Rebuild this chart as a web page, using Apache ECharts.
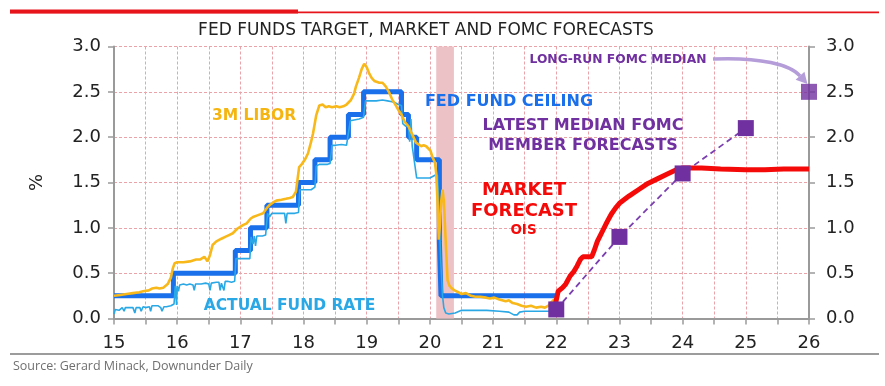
<!DOCTYPE html>
<html>
<head>
<meta charset="utf-8">
<script src="https://cdn.jsdelivr.net/npm/echarts@6/dist/echarts.min.js"></script>
<style>
html,body{margin:0;padding:0;background:#fff;}
#c{width:885px;height:386px;}
</style>
</head>
<body>
<div id="c"></div>
<script>
// ---------- DATA ----------
var xTickLabels = ['15','16','17','18','19','20','21','22','23','24','25','26'];
var yTickLabels = ['0.0','0.5','1.0','1.5','2.0','2.5','3.0'];

// Fed funds target ceiling (step changes)
var ceilingX = [15, 15.94, 16.92, 17.16, 17.42, 17.92, 18.18, 18.42, 18.71, 18.95, 19.55, 19.66, 19.79, 20.15, 20.175, 22.0];
var ceilingY = [0.25, 0.5, 0.75, 1.0, 1.25, 1.5, 1.75, 2.0, 2.25, 2.5, 2.25, 2.0, 1.75, 0.85, 0.25, 0.25];

// Actual (effective) fed funds rate
var actualX = [15.0,15.02,15.05,15.08,15.1,15.13,15.16,15.18,15.21,15.25,15.28,15.3,15.33,15.35,15.38,15.41,15.43,15.46,15.5,15.53,15.56,15.58,15.6,15.64,15.67,15.7,15.74,15.76,15.79,15.83,15.86,15.9,15.93,15.95,15.97,15.99,16.0,16.02,16.04,16.06,16.1,16.15,16.2,16.25,16.27,16.29,16.32,16.38,16.45,16.5,16.52,16.54,16.56,16.62,16.66,16.68,16.7,16.72,16.74,16.76,16.8,16.86,16.91,16.93,16.96,17.0,17.05,17.1,17.15,17.17,17.2,17.22,17.24,17.26,17.3,17.35,17.4,17.43,17.46,17.5,17.55,17.6,17.65,17.7,17.72,17.74,17.8,17.86,17.92,17.94,17.98,18.05,18.12,18.18,18.2,18.25,18.3,18.38,18.42,18.45,18.5,18.6,18.68,18.71,18.74,18.8,18.88,18.95,18.98,19.05,19.15,19.25,19.33,19.4,19.45,19.5,19.55,19.57,19.62,19.66,19.68,19.7,19.72,19.74,19.79,19.81,19.9,20.0,20.08,20.1,20.12,20.15,20.17,20.2,20.22,20.25,20.3,20.4,20.5,20.7,20.9,21.1,21.25,21.33,21.36,21.38,21.42,21.5,21.7,21.85,22.0];
var actualY = [0.05,0.1,0.12,0.09,0.11,0.12,0.08,0.12,0.11,0.12,0.13,0.12,0.06,0.12,0.13,0.12,0.08,0.13,0.12,0.14,0.13,0.08,0.14,0.14,0.13,0.14,0.12,0.08,0.13,0.13,0.12,0.14,0.13,0.16,0.36,0.15,0.36,0.3,0.37,0.36,0.38,0.37,0.38,0.37,0.31,0.38,0.37,0.38,0.39,0.38,0.31,0.39,0.39,0.4,0.4,0.31,0.39,0.4,0.31,0.41,0.41,0.4,0.41,0.66,0.65,0.66,0.66,0.66,0.66,0.9,0.82,0.91,0.8,0.91,0.91,0.91,0.92,1.16,1.12,1.16,1.16,1.16,1.16,1.16,1.05,1.16,1.16,1.16,1.17,1.42,1.42,1.42,1.42,1.45,1.68,1.7,1.7,1.7,1.71,1.91,1.91,1.92,1.91,1.92,2.18,2.19,2.2,2.22,2.40,2.40,2.40,2.41,2.40,2.39,2.38,2.36,2.35,2.15,2.12,2.13,1.95,2.2,1.9,1.88,1.55,1.55,1.55,1.55,1.58,1.6,1.58,1.1,0.65,0.25,0.12,0.06,0.05,0.06,0.09,0.09,0.09,0.08,0.07,0.04,0.06,0.04,0.07,0.08,0.08,0.08,0.08];

// 3M LIBOR
var liborX = [15.0,15.1,15.2,15.3,15.4,15.46,15.55,15.6,15.67,15.72,15.78,15.85,15.9,15.93,15.96,16.0,16.1,16.2,16.3,16.36,16.43,16.48,16.52,16.56,16.62,16.7,16.76,16.82,16.88,16.95,17.04,17.1,17.16,17.2,17.28,17.36,17.42,17.46,17.52,17.57,17.65,17.72,17.78,17.83,17.88,17.93,17.97,18.02,18.07,18.12,18.15,18.2,18.25,18.3,18.35,18.4,18.45,18.52,18.57,18.63,18.68,18.75,18.8,18.83,18.88,18.92,18.96,19.0,19.04,19.08,19.12,19.15,19.2,19.25,19.3,19.35,19.4,19.46,19.5,19.55,19.6,19.62,19.66,19.7,19.74,19.78,19.82,19.86,19.9,19.94,19.97,20.01,20.04,20.08,20.1,20.12,20.14,20.16,20.18,20.2,20.22,20.24,20.26,20.28,20.31,20.35,20.39,20.45,20.5,20.57,20.65,20.72,20.8,20.89,20.95,21.02,21.1,21.2,21.25,21.31,21.38,21.45,21.52,21.6,21.68,21.76,21.82,21.87,21.91,21.95,22.0];
var liborY = [0.25,0.26,0.27,0.28,0.29,0.3,0.31,0.33,0.34,0.33,0.34,0.38,0.45,0.55,0.61,0.62,0.62,0.63,0.65,0.65,0.68,0.63,0.7,0.81,0.85,0.88,0.9,0.92,0.94,0.99,1.03,1.05,1.1,1.12,1.14,1.16,1.22,1.25,1.28,1.3,1.31,1.32,1.33,1.34,1.4,1.67,1.7,1.75,1.82,1.95,2.04,2.24,2.35,2.36,2.33,2.34,2.33,2.34,2.33,2.34,2.36,2.41,2.48,2.56,2.66,2.75,2.81,2.77,2.7,2.65,2.62,2.61,2.6,2.6,2.56,2.5,2.42,2.35,2.3,2.25,2.17,2.15,2.12,2.06,2.0,1.94,1.92,1.9,1.91,1.9,1.92,1.85,1.78,1.72,1.6,1.3,0.87,1.05,1.3,1.42,1.3,1.0,0.7,0.42,0.36,0.33,0.31,0.29,0.27,0.28,0.25,0.24,0.24,0.23,0.22,0.23,0.21,0.19,0.2,0.17,0.16,0.14,0.13,0.14,0.12,0.13,0.12,0.14,0.17,0.2,0.23];

// Market forecast (OIS)
var oisX = [21.99,22.03,22.1,22.15,22.22,22.28,22.33,22.38,22.42,22.56,22.6,22.65,22.7,22.75,22.8,22.87,22.94,23.0,23.15,23.3,23.45,23.6,23.75,23.9,24.0,24.3,24.6,25.0,25.3,25.6,26.0];
var oisY = [0.17,0.3,0.34,0.38,0.47,0.52,0.58,0.65,0.68,0.68,0.75,0.85,0.92,0.99,1.06,1.15,1.22,1.27,1.35,1.42,1.49,1.54,1.59,1.64,1.66,1.66,1.65,1.64,1.64,1.65,1.65];

// FOMC median forecasts
var fomcX = [22, 23, 24, 25];
var fomcY = [0.1, 0.9, 1.6, 2.1];
var longRunX = [26];
var longRunY = [2.5];

// Shaded period
var shadeRange = [20.1, 20.38];

// ---------- CHART ----------
function pairs(xs, ys){ return xs.map(function(x,i){ return [x, ys[i]]; }); }

var FONT = 'DejaVu Sans';
var gridColor = '#EBA3AA';
var axisGray = '#9a9a9a';

var chart = echarts.init(document.getElementById('c'), null, {renderer:'canvas'});

var option = {
  animation: false,
  backgroundColor: '#ffffff',
  grid: {left:114, right:76, top:46.5, bottom:67.5, containLabel:false},
  xAxis: {
    type:'value', min:15, max:26, interval:0.5,
    axisLine:{show:true, onZero:false, lineStyle:{color:axisGray, width:2}},
    axisTick:{show:true, length:6, lineStyle:{color:axisGray, width:1.5}},
    axisLabel:{margin:16, color:'#222', fontFamily:FONT, fontSize:18,
      formatter:function(v){ var i = Math.round(v); return Math.abs(v-i)<1e-6 ? xTickLabels[i-15] : ''; }},
    splitLine:{show:true, lineStyle:{color:gridColor, type:[3,2], width:1}}
  },
  yAxis: [
    {type:'value', min:0, max:3, interval:0.5, position:'left',
     name:'%', nameLocation:'middle', nameGap:68, nameRotate:90,
     nameTextStyle:{color:'#222', fontFamily:FONT, fontSize:18},
     axisLine:{show:true, lineStyle:{color:axisGray, width:2}},
     axisTick:{show:true, length:6, lineStyle:{color:axisGray, width:1.5}},
     axisLabel:{margin:13, color:'#222', fontFamily:FONT, fontSize:18,
       formatter:function(v){ return yTickLabels[Math.round(v*2)]; }},
     splitLine:{show:true, lineStyle:{color:gridColor, type:[3,2], width:1}}
    },
    {type:'value', min:0, max:3, interval:0.5, position:'right',
     axisLine:{show:true, lineStyle:{color:axisGray, width:2}},
     axisTick:{show:true, length:6, lineStyle:{color:axisGray, width:1.5}},
     axisLabel:{margin:17, color:'#222', fontFamily:FONT, fontSize:18,
       formatter:function(v){ return yTickLabels[Math.round(v*2)]; }},
     splitLine:{show:false}
    }
  ],
  series: [
    {name:'Fed fund ceiling', type:'line', step:'end', data:pairs(ceilingX, ceilingY),
     showSymbol:false, z:2, lineStyle:{color:'#1A6FEA', width:5}, itemStyle:{color:'#1A6FEA'},
     markArea:{silent:true, itemStyle:{color:'#EDC2C6'},
       data:[[{xAxis:shadeRange[0]},{xAxis:shadeRange[1]}]]}
    },
    {name:'Actual fund rate', type:'line', data:pairs(actualX, actualY),
     showSymbol:false, z:3, lineStyle:{color:'#2AA8E6', width:1.6}, itemStyle:{color:'#2AA8E6'}},
    {name:'3M LIBOR', type:'line', data:pairs(liborX, liborY),
     showSymbol:false, z:4, lineStyle:{color:'#F8B81A', width:2.6}, itemStyle:{color:'#F8B81A'}},
    {name:'Market forecast', type:'line', data:pairs(oisX, oisY),
     showSymbol:false, z:5, lineStyle:{color:'#F50A0A', width:5}, itemStyle:{color:'#F50A0A'}},
    {name:'FOMC median', type:'line', data:pairs(fomcX, fomcY),
     symbol:'rect', symbolSize:16, z:6,
     lineStyle:{color:'#7B3FB0', width:1.8, type:[6,4]}, itemStyle:{color:'#7030A0'}},
    {name:'Long-run', type:'scatter', data:pairs(longRunX, longRunY),
     symbol:'rect', symbolSize:16, z:6, itemStyle:{color:'#7030A0'}}
  ]
};
chart.setOption(option);

// ---------- ANNOTATIONS ----------
function txt(x, y, s, color, size, weight, family){
  return {type:'text', x:x, y:y, z:100, style:{text:s, fill:color, font:(weight||'bold')+' '+size+'px "'+(family||FONT)+'"', textAlign:'center', textVerticalAlign:'middle'}};
}
var lr = chart.convertToPixel({xAxisIndex:0, yAxisIndex:0}, [longRunX[0], longRunY[0]]);
var sx = 713, sy = 59;
var ex = lr[0]-9, ey = lr[1]-16;
var c1x = sx+48, c1y = sy-2, c2x = ex-10, c2y = ey-11;
var dx = ex-c2x, dy = ey-c2y, dl = Math.sqrt(dx*dx+dy*dy); dx/=dl; dy/=dl;
var tipx = ex+11*dx, tipy = ey+11*dy, nx = -dy, ny = dx;

var graphics = [
  {type:'rect', shape:{x:10, y:9.5, width:288, height:4}, style:{fill:'#E8141C'}, z:100},
  {type:'rect', shape:{x:10, y:11.5, width:869, height:1.8}, style:{fill:'#E8141C'}, z:100},
  {type:'rect', shape:{x:10, y:353, width:869, height:2}, style:{fill:'#9c9c9c'}, z:100},
  txt(426, 31, 'FED FUNDS TARGET, MARKET AND FOMC FORECASTS', '#222', 17, 'normal'),
  {type:'text', x:13, y:366, z:100, style:{text:'Source: Gerard Minack, Downunder Daily', fill:'#707070', font:'normal 12.5px "Open Sans"', textAlign:'left', textVerticalAlign:'middle'}},
  txt(254, 116, '3M LIBOR', '#F5B511', 15.5),
  txt(509, 102, 'FED FUND CEILING', '#1A6FEA', 16),
  txt(583, 126, 'LATEST MEDIAN FOMC', '#7030A0', 16),
  txt(583, 146, 'MEMBER FORECASTS', '#7030A0', 16),
  txt(618, 59.5, 'LONG-RUN FOMC MEDIAN', '#7030A0', 12.3),
  txt(524, 190, 'MARKET', '#F50A0A', 18),
  txt(524, 211.5, 'FORECAST', '#F50A0A', 18),
  txt(523.5, 230, 'OIS', '#F50A0A', 13.5),
  txt(289.5, 306, 'ACTUAL FUND RATE', '#2AA8E6', 15.5),
  {type:'bezierCurve', z:100, shape:{x1:sx, y1:sy, x2:ex, y2:ey, cpx1:c1x, cpy1:c1y, cpx2:c2x, cpy2:c2y},
   style:{stroke:'#B59DDA', lineWidth:3.5, fill:null}},
  {type:'polygon', z:100, shape:{points:[[tipx,tipy],[ex+6*nx,ey+6*ny],[ex-6*nx,ey-6*ny]]}, style:{fill:'#B59DDA'}}
];
chart.setOption({graphic:graphics});
</script>
</body>
</html>
